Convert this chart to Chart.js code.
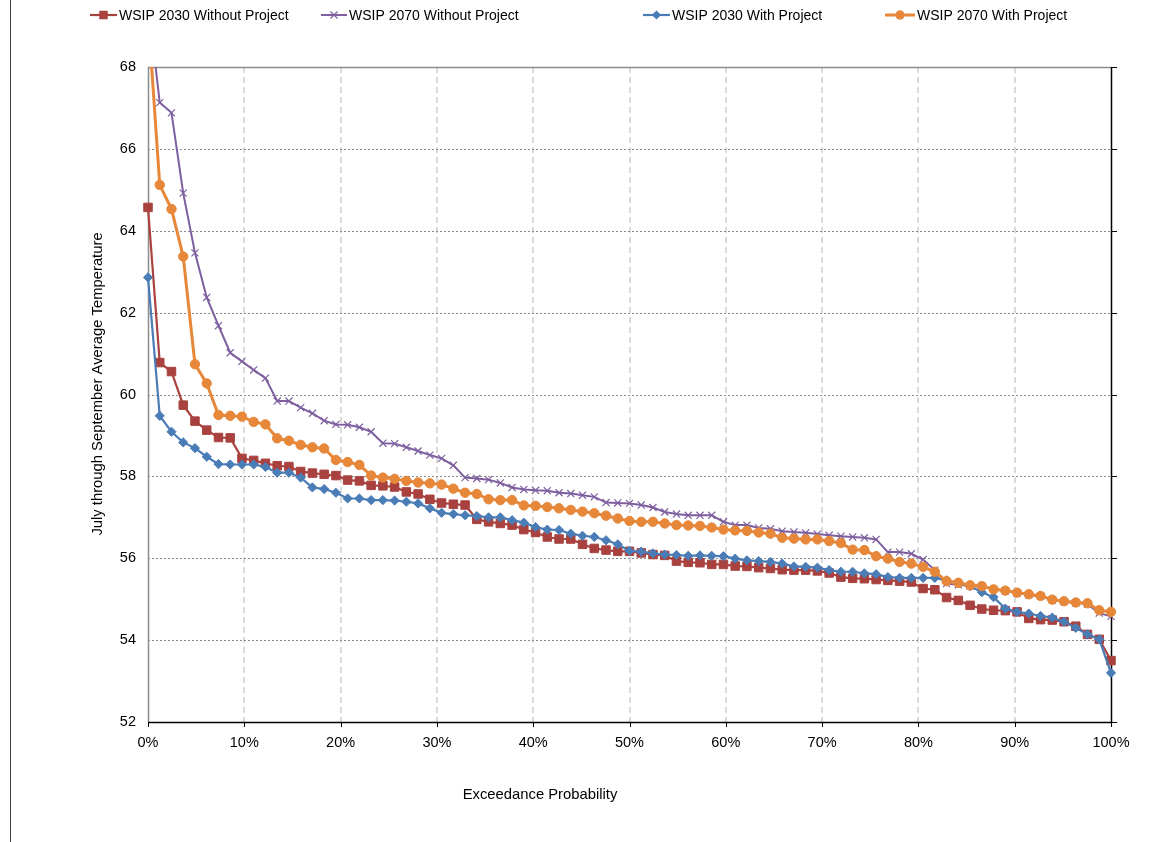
<!DOCTYPE html>
<html><head><meta charset="utf-8">
<script src="https://cdn.jsdelivr.net/npm/chart.js@4/dist/chart.umd.min.js"></script>
<style>html,body{margin:0;padding:0;background:#fff;}#wrap{position:relative;width:1162px;height:842px;}</style>
</head><body><div id="wrap"><canvas id="c" width="1162" height="842"></canvas></div>
<script>
// ---- data ----
const seriesLabels = ['WSIP 2030 Without Project','WSIP 2070 Without Project','WSIP 2030 With Project','WSIP 2070 With Project'];
const pointCount = 83; // ranked years, plotted at exceedance probability rank/(n-1)
const exceedance = Array.from({length: pointCount}, (_, i) => i / (pointCount - 1));
const wsip2030Without = [64.57,60.78,60.56,59.74,59.35,59.13,58.95,58.94,58.44,58.39,58.32,58.26,58.24,58.12,58.08,58.05,58.02,57.91,57.89,57.78,57.77,57.74,57.62,57.57,57.44,57.35,57.32,57.30,56.95,56.89,56.85,56.81,56.70,56.63,56.52,56.47,56.47,56.34,56.24,56.20,56.17,56.17,56.13,56.09,56.07,55.93,55.90,55.89,55.85,55.85,55.81,55.80,55.77,55.75,55.72,55.71,55.71,55.69,55.64,55.54,55.51,55.50,55.48,55.46,55.44,55.42,55.26,55.23,55.04,54.97,54.85,54.76,54.73,54.72,54.69,54.53,54.50,54.49,54.45,54.34,54.14,54.02,53.50];
const wsip2070Without = [69.6,67.13,66.88,64.92,63.46,62.37,61.68,61.02,60.81,60.60,60.40,59.84,59.84,59.68,59.54,59.36,59.27,59.26,59.20,59.09,58.81,58.80,58.71,58.62,58.52,58.44,58.27,57.97,57.95,57.92,57.84,57.73,57.68,57.66,57.65,57.60,57.58,57.54,57.50,57.36,57.35,57.34,57.30,57.24,57.13,57.08,57.05,57.05,57.05,56.89,56.81,56.81,56.74,56.72,56.66,56.64,56.62,56.59,56.56,56.54,56.52,56.50,56.46,56.15,56.15,56.11,55.97,55.71,55.38,55.35,55.32,55.31,55.24,55.20,55.15,55.11,55.07,54.98,54.94,54.91,54.88,54.66,54.58];
const wsip2030With = [62.86,59.48,59.09,58.83,58.69,58.48,58.30,58.29,58.29,58.29,58.23,58.09,58.09,57.97,57.73,57.69,57.60,57.46,57.46,57.42,57.42,57.41,57.38,57.34,57.22,57.11,57.08,57.05,57.03,57.00,57.00,56.93,56.87,56.76,56.70,56.69,56.60,56.55,56.52,56.44,56.34,56.18,56.16,56.12,56.09,56.08,56.06,56.07,56.06,56.05,55.99,55.95,55.93,55.91,55.87,55.80,55.79,55.77,55.71,55.67,55.67,55.63,55.61,55.54,55.52,55.52,55.52,55.52,55.46,55.40,55.32,55.17,55.05,54.77,54.69,54.65,54.59,54.55,54.45,54.30,54.14,54.02,53.20];
const wsip2070With = [69.3,65.12,64.53,63.37,60.74,60.27,59.50,59.48,59.46,59.33,59.27,58.93,58.87,58.77,58.71,58.68,58.40,58.35,58.28,58.02,57.97,57.94,57.89,57.85,57.83,57.80,57.70,57.60,57.57,57.44,57.42,57.42,57.29,57.28,57.25,57.22,57.18,57.14,57.10,57.04,56.97,56.91,56.89,56.89,56.85,56.81,56.80,56.79,56.75,56.70,56.68,56.67,56.63,56.60,56.50,56.48,56.46,56.46,56.42,56.37,56.21,56.20,56.05,55.99,55.91,55.87,55.79,55.67,55.44,55.40,55.34,55.32,55.24,55.21,55.16,55.12,55.08,54.99,54.95,54.92,54.90,54.73,54.69];
const yAxisTitle = 'July through September Average Temperature';
const xAxisTitle = 'Exceedance Probability';

const FONT = "'Liberation Sans', Arial, sans-serif";
const toXY = vals => vals.map((v, i) => ({x: exceedance[i], y: v}));

const styles = [
  {color:'#A9423F', pointStyle:'rect', pointRadius:6, borderWidth:2.2, order:4},
  {color:'#7D5F9F', pointStyle:'crossRot', pointRadius:5, borderWidth:2, order:3},
  {color:'#4A7CB6', pointStyle:'rectRot', pointRadius:4.6, borderWidth:2.2, order:2},
  {color:'#E6873A', pointStyle:'circle', pointRadius:4.7, borderWidth:3, order:1}
];
const seriesValues = [wsip2030Without, wsip2070Without, wsip2030With, wsip2070With];

const datasets = seriesValues.map((vals, k) => ({
  label: seriesLabels[k],
  data: toXY(vals),
  borderColor: styles[k].color,
  backgroundColor: styles[k].color,
  pointBackgroundColor: styles[k].color,
  pointBorderColor: styles[k].color,
  pointStyle: styles[k].pointStyle,
  pointRadius: styles[k].pointRadius,
  pointBorderWidth: styles[k].pointStyle === 'crossRot' ? 1.2 : 1,
  borderWidth: styles[k].borderWidth,
  tension: 0,
  fill: false,
  clip: {left: 12, right: 12, top: 0, bottom: 12},
  order: styles[k].order
}));

const legendPos = [
  {x0: 90, x1: 117, tx: 119},
  {x0: 321, x1: 347, tx: 349},
  {x0: 643, x1: 670, tx: 672},
  {x0: 885, x1: 915, tx: 917}
];

function drawMarker(ctx, style, x, y, r, color) {
  ctx.save();
  ctx.fillStyle = color; ctx.strokeStyle = color; ctx.lineWidth = 1;
  ctx.beginPath();
  if (style === 'rect') { const s = r * Math.SQRT1_2; ctx.rect(x - s, y - s, 2*s, 2*s); ctx.fill(); }
  else if (style === 'rectRot') { ctx.moveTo(x, y - r); ctx.lineTo(x + r, y); ctx.lineTo(x, y + r); ctx.lineTo(x - r, y); ctx.closePath(); ctx.fill(); }
  else if (style === 'circle') { ctx.arc(x, y, r, 0, Math.PI*2); ctx.fill(); }
  else if (style === 'crossRot') { const s = r * Math.SQRT1_2; ctx.lineWidth = 1.2; ctx.moveTo(x-s,y-s); ctx.lineTo(x+s,y+s); ctx.moveTo(x+s,y-s); ctx.lineTo(x-s,y+s); ctx.stroke(); }
  ctx.restore();
}

const framePlugin = {
  id: 'frame',
  beforeDatasetsDraw(chart) {
    const {ctx, chartArea: a, scales: {x, y}} = chart;
    ctx.save();
    // vertical dashed gridlines
    ctx.strokeStyle = '#cfcfcf'; ctx.lineWidth = 1.5; ctx.setLineDash([6, 4]);
    x.ticks.forEach(t => {
      if (t.value <= 0.001 || t.value >= 0.999) return;
      const px = Math.round(x.getPixelForValue(t.value));
      ctx.beginPath(); ctx.moveTo(px, a.top); ctx.lineTo(px, a.bottom); ctx.stroke();
    });
    // horizontal dotted gridlines
    ctx.strokeStyle = '#8a8a8a'; ctx.lineWidth = 1; ctx.setLineDash([2, 2]);
    y.ticks.forEach(t => {
      if (t.value <= 52 || t.value >= 68) return;
      const py = Math.round(y.getPixelForValue(t.value)) + 0.5;
      ctx.beginPath(); ctx.moveTo(a.left, py); ctx.lineTo(a.right, py); ctx.stroke();
    });
    ctx.setLineDash([]);
    // top border and left axis (gray)
    ctx.strokeStyle = '#8c8c8c'; ctx.lineWidth = 1.5;
    ctx.beginPath(); ctx.moveTo(a.left, a.top + 0.5); ctx.lineTo(a.right, a.top + 0.5); ctx.stroke();
    ctx.beginPath(); ctx.moveTo(a.left + 0.5, a.top); ctx.lineTo(a.left + 0.5, a.bottom); ctx.stroke();
    // bottom and right axis (black)
    ctx.strokeStyle = '#000'; ctx.lineWidth = 1.5;
    ctx.beginPath(); ctx.moveTo(a.left, a.bottom + 0.5); ctx.lineTo(a.right + 1, a.bottom + 0.5); ctx.stroke();
    ctx.beginPath(); ctx.moveTo(a.right + 0.5, a.top); ctx.lineTo(a.right + 0.5, a.bottom + 1); ctx.stroke();
    // right axis tick marks
    ctx.lineWidth = 1;
    y.ticks.forEach(t => {
      const py = Math.round(y.getPixelForValue(t.value)) + 0.5;
      ctx.beginPath(); ctx.moveTo(a.right, py); ctx.lineTo(a.right + 6, py); ctx.stroke();
    });
    // bottom axis tick marks
    x.ticks.forEach(t => {
      const px = Math.round(x.getPixelForValue(t.value)) + 0.5;
      ctx.beginPath(); ctx.moveTo(px, a.bottom); ctx.lineTo(px, a.bottom + 5); ctx.stroke();
    });
    ctx.restore();
  },
  afterDraw(chart) {
    const {ctx, chartArea: a} = chart;
    ctx.save();
    // page border line on the left
    ctx.strokeStyle = '#404040'; ctx.lineWidth = 1;
    ctx.beginPath(); ctx.moveTo(10.5, 0); ctx.lineTo(10.5, 842); ctx.stroke();
    // legend
    ctx.font = '14px ' + FONT; ctx.fillStyle = '#000'; ctx.textBaseline = 'middle'; ctx.textAlign = 'left';
    chart.data.datasets.forEach((ds, k) => {
      const p = legendPos[k], ly = 15;
      ctx.strokeStyle = ds.borderColor; ctx.lineWidth = ds.borderWidth;
      ctx.beginPath(); ctx.moveTo(p.x0, ly); ctx.lineTo(p.x1, ly); ctx.stroke();
      drawMarker(ctx, ds.pointStyle, (p.x0 + p.x1) / 2, ly, ds.pointRadius, ds.borderColor);
      ctx.fillStyle = '#000';
      ctx.fillText(ds.label, p.tx, ly + 1);
    });
    // axis titles
    ctx.font = '14.8px ' + FONT; ctx.textAlign = 'center'; ctx.textBaseline = 'middle';
    ctx.fillText(xAxisTitle, 540, 795);
    ctx.translate(98, 384); ctx.rotate(-Math.PI / 2);
    ctx.fillText(yAxisTitle, 0, 0);
    ctx.restore();
  }
};

new Chart(document.getElementById('c'), {
  type: 'line',
  data: {datasets},
  options: {
    responsive: false,
    animation: false,
    devicePixelRatio: 1,
    layout: {padding: {top: 67, right: 51, bottom: 0, left: 0}},
    plugins: {legend: {display: false}, tooltip: {enabled: false}, title: {display: false}},
    scales: {
      x: {
        type: 'linear', min: 0, max: 1,
        afterFit: s => { s.height = 120; },
        grid: {display: false, drawTicks: false},
        border: {display: false},
        ticks: {stepSize: 0.1, autoSkip: false, maxRotation: 0, padding: 12, color: '#000',
          font: {family: FONT, size: 14.5},
          callback: v => Math.round(v * 100) + '%'}
      },
      y: {
        min: 52, max: 68,
        afterFit: s => { s.width = 148; },
        grid: {display: false, drawTicks: false},
        border: {display: false},
        ticks: {stepSize: 2, padding: 12, color: '#000', font: {family: FONT, size: 14.5}}
      }
    }
  },
  plugins: [framePlugin]
});
</script></body></html>
